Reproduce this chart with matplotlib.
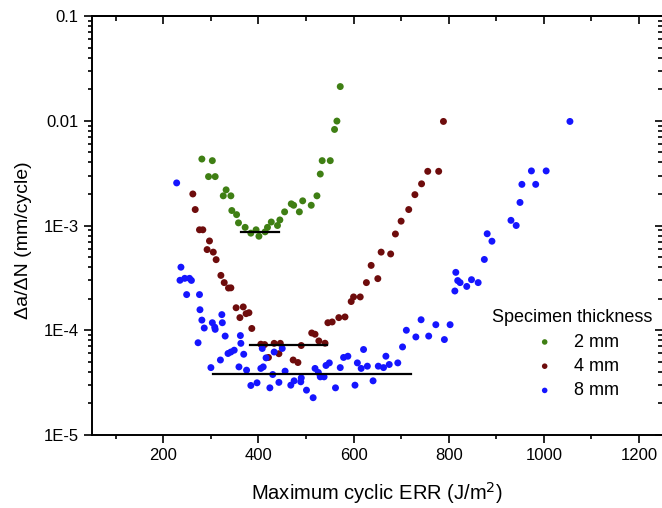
import matplotlib
matplotlib.use("Agg")
import matplotlib.pyplot as plt
from matplotlib.ticker import FixedLocator, FixedFormatter, MultipleLocator, LogLocator, NullFormatter

plt.rcParams['font.family'] = ['Liberation Sans', 'DejaVu Sans']

# 2 mm specimen
x_2mm = [281, 303, 295, 309, 332, 326, 342, 344, 354, 358, 372, 384, 395, 401, 414, 419,
         427, 440, 445, 455, 469, 474, 486, 493, 511, 523, 530, 534, 551, 560, 565, 572]
y_2mm = [4.31e-3, 4.16e-3, 2.93e-3, 2.93e-3, 2.19e-3, 1.92e-3, 1.92e-3, 1.39e-3, 1.27e-3,
         1.06e-3, 9.6e-4, 8.45e-4, 9.1e-4, 7.9e-4, 8.7e-4, 9.6e-4, 1.08e-3, 1.0e-3, 1.13e-3,
         1.35e-3, 1.61e-3, 1.56e-3, 1.35e-3, 1.72e-3, 1.56e-3, 1.92e-3, 3.1e-3, 4.16e-3,
         4.16e-3, 8.26e-3, 9.93e-3, 2.12e-2]

# 4 mm specimen
x_4mm = [262, 267, 276, 283, 297, 292, 305, 311, 321, 328, 337, 342, 353, 368, 361, 374,
         380, 386, 405, 413, 433, 446, 443, 421, 490, 473, 483, 512, 519, 527, 540, 546,
         555, 569, 582, 595, 600, 614, 627, 637, 651, 658, 678, 688, 700, 716, 729, 743,
         756, 779, 789]
y_4mm = [2.0e-3, 1.42e-3, 9.1e-4, 9.1e-4, 7.12e-4, 5.89e-4, 5.57e-4, 4.72e-4, 3.34e-4,
         2.85e-4, 2.53e-4, 2.54e-4, 1.64e-4, 1.67e-4, 1.32e-4, 1.44e-4, 1.47e-4, 1.04e-4,
         7.36e-5, 7.3e-5, 7.5e-5, 7.5e-5, 5.97e-5, 5.5e-5, 7.15e-5, 5.2e-5, 4.92e-5,
         9.42e-5, 9.16e-5, 7.91e-5, 7.52e-5, 1.18e-4, 1.2e-4, 1.32e-4, 1.34e-4, 1.88e-4,
         2.08e-4, 2.08e-4, 2.85e-4, 4.16e-4, 3.11e-4, 5.57e-4, 5.35e-4, 8.3e-4, 1.1e-3,
         1.42e-3, 1.97e-3, 2.5e-3, 3.29e-3, 3.29e-3, 9.85e-3]

# 8 mm specimen
x_8mm = [228, 237, 235, 245, 255, 259, 249, 276, 277, 281, 286, 273, 303, 308, 309, 323,
         324, 330, 362, 363, 369, 349, 342, 336, 320, 300, 359, 375, 384, 397, 405, 410,
         408, 416, 433, 450, 430, 424, 443, 456, 468, 475, 490, 489, 501, 515, 519, 526,
         530, 538, 542, 549, 562, 572, 579, 588, 603, 608, 616, 621, 629, 641, 652, 663,
         668, 675, 693, 703, 711, 731, 742, 758, 773, 791, 803, 813, 815, 819, 824, 838,
         848, 862, 875, 881, 891, 931, 942, 950, 954, 983, 974, 1005, 1055]
y_8mm = [2.55e-3, 4.0e-4, 3.0e-4, 3.13e-4, 3.13e-4, 2.99e-4, 2.19e-4, 2.19e-4, 1.57e-4,
         1.25e-4, 1.05e-4, 7.6e-5, 1.18e-4, 1.07e-4, 1.02e-4, 1.41e-4, 1.18e-4, 8.8e-5,
         8.9e-5, 7.5e-5, 5.9e-5, 6.45e-5, 6.2e-5, 6.0e-5, 5.2e-5, 4.4e-5, 4.47e-5, 4.16e-5,
         2.97e-5, 3.15e-5, 4.32e-5, 4.47e-5, 6.7e-5, 5.45e-5, 6.2e-5, 6.7e-5, 3.78e-5,
         2.82e-5, 3.18e-5, 4.07e-5, 2.99e-5, 3.29e-5, 3.51e-5, 3.22e-5, 2.68e-5, 2.27e-5,
         4.32e-5, 3.95e-5, 3.59e-5, 3.59e-5, 4.61e-5, 4.88e-5, 2.82e-5, 4.4e-5, 5.5e-5,
         5.65e-5, 2.99e-5, 4.88e-5, 4.32e-5, 6.55e-5, 4.54e-5, 3.29e-5, 4.54e-5, 4.4e-5,
         5.65e-5, 4.71e-5, 4.88e-5, 6.93e-5, 1.0e-4, 8.63e-5, 1.26e-4, 8.8e-5, 1.13e-4,
         8.15e-5, 1.13e-4, 2.37e-4, 3.57e-4, 2.98e-4, 2.85e-4, 2.62e-4, 3.04e-4, 2.85e-4,
         4.74e-4, 8.34e-4, 7.08e-4, 1.12e-3, 1.0e-3, 1.66e-3, 2.47e-3, 2.47e-3, 3.32e-3,
         3.32e-3, 9.85e-3]

# threshold lines: (x start, x end, level)
threshold_2mm = (364, 443, 8.7e-4)
threshold_4mm = (382, 544, 7.2e-5)
threshold_8mm = (305, 721, 3.81e-5)

labels = ['2 mm', '4 mm', '8 mm']
colors = ['#3f7f14', '#6e0c0c', '#1515ff']
y_decades = [1e-5, 1e-4, 1e-3, 1e-2, 1e-1]
y_decade_labels = ['1E-5', '1E-4', '1E-3', '0.01', '0.1']

fig = plt.figure(figsize=(6.62, 5.08), dpi=100)
ax = fig.add_axes([0.139, 0.1437, 0.862, 0.8248])

series = [(x_2mm, y_2mm), (x_4mm, y_4mm), (x_8mm, y_8mm)]
for (xs, ys), lab, c in zip(series, labels, colors):
    ax.scatter(xs, ys, s=25, color=c, edgecolors='none', label=lab, zorder=3)

for x0, x1, lvl in (threshold_2mm, threshold_4mm, threshold_8mm):
    ax.plot([x0, x1], [lvl, lvl], color='black', lw=1.6, zorder=4)

ax.set_yscale('log')
ax.set_xlim(50, 1250)
ax.set_ylim(1e-5, 0.1)

ax.xaxis.set_major_locator(MultipleLocator(200))
ax.xaxis.set_minor_locator(MultipleLocator(100))
ax.yaxis.set_major_locator(FixedLocator(y_decades))
ax.yaxis.set_major_formatter(FixedFormatter(y_decade_labels))
ax.yaxis.set_minor_locator(LogLocator(base=10, subs=range(2, 10)))
ax.yaxis.set_minor_formatter(NullFormatter())

ax.tick_params(which='both', direction='out', top=False, right=False, width=1.2, labelsize=12)
ax.tick_params(which='major', length=6)
ax.tick_params(which='minor', length=3)

# inward ticks on the top and right frame, no labels
top = ax.secondary_xaxis('top')
top.xaxis.set_major_locator(MultipleLocator(200))
top.xaxis.set_minor_locator(MultipleLocator(100))
top.tick_params(which='both', direction='in', labeltop=False, width=1.2)
top.tick_params(which='major', length=6)
top.tick_params(which='minor', length=3.5)
right = ax.secondary_yaxis('right')
right.yaxis.set_major_locator(FixedLocator(y_decades))
right.yaxis.set_minor_locator(LogLocator(base=10, subs=range(2, 10)))
right.yaxis.set_minor_formatter(NullFormatter())
right.tick_params(which='both', direction='in', labelright=False, width=1.2)
right.tick_params(which='major', length=6)
right.tick_params(which='minor', length=3.5)

for sp in ax.spines.values():
    sp.set_linewidth(1.4)
top.spines['top'].set_linewidth(1.4)
right.spines['right'].set_linewidth(1.4)

ax.set_xlabel('Maximum cyclic ERR (J/m$^2$)', fontsize=14.5, labelpad=12)
ax.set_ylabel('\u0394a/\u0394N (mm/cycle)', fontsize=14)
ax.yaxis.set_label_coords(-0.105, 0.465)

leg = ax.legend(title='Specimen thickness', loc='upper right',
                bbox_to_anchor=(0.997, 0.405), bbox_transform=fig.transFigure,
                frameon=False, fontsize=13, title_fontsize=13, markerscale=0.8,
                handletextpad=0.6, labelspacing=0.4, borderaxespad=0)

fig.savefig('out.png', dpi=100)
